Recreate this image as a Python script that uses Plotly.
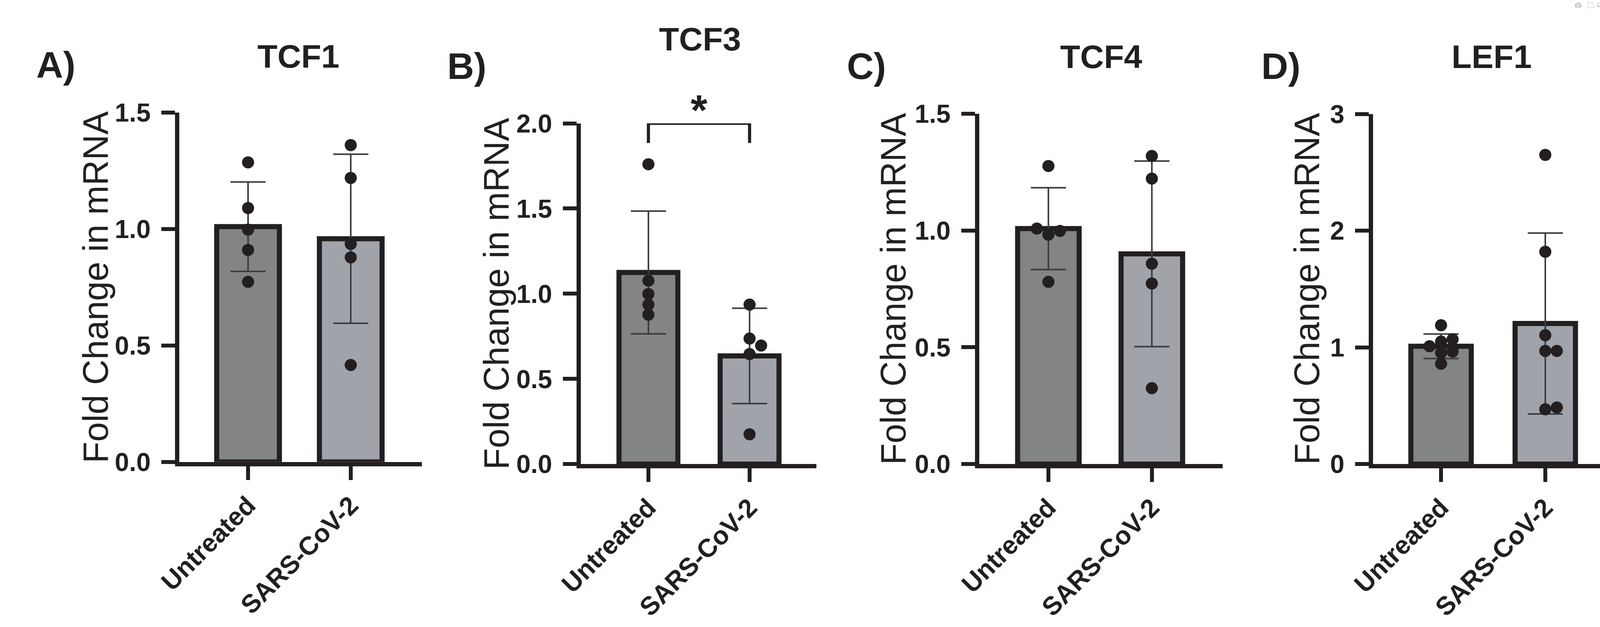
import plotly.graph_objects as go

W, H = 4142, 1604
FONT = "Liberation Sans, Arial, sans-serif"
INK = "#231f20"
ERR = "#3c3c3c"
FILLS = ["#838486", "#a0a3aa"]

groups = ["Untreated", "SARS-CoV-2"]
genes = ["TCF1", "TCF3", "TCF4", "LEF1"]
tags = ["A)", "B)", "C)", "D)"]

# individual replicates (fold change in mRNA)
tcf1_untreated = [1.286, 1.09, 0.997, 0.91, 0.773]
tcf1_sars = [1.36, 1.219, 0.936, 0.878, 0.416]
tcf3_untreated = [1.76, 1.077, 0.998, 0.936, 0.877]
tcf3_sars = [0.936, 0.737, 0.696, 0.646, 0.175]
tcf4_untreated = [1.276, 1.008, 0.998, 0.982, 0.78]
tcf4_sars = [1.319, 1.222, 0.858, 0.773, 0.325]
lef1_untreated = [1.19, 1.07, 1.05, 1.01, 0.965, 0.955, 0.86]
lef1_sars = [2.65, 1.82, 1.105, 0.97, 0.97, 0.485, 0.47]

# bar heights (mean) and error bars (SD)
tcf1_mean = [1.01, 0.958]
tcf1_sd = [0.192, 0.363]
tcf3_mean = [1.125, 0.635]
tcf3_sd = [0.36, 0.28]
tcf4_mean = [1.008, 0.9]
tcf4_sd = [0.175, 0.397]
lef1_mean = [1.01, 1.205]
lef1_sd = [0.105, 0.775]

y_ticks = [[0, 0.5, 1.0, 1.5], [0, 0.5, 1.0, 1.5, 2.0], [0, 0.5, 1.0, 1.5], [0, 1, 2, 3]]
y_ticktext = [["0.0", "0.5", "1.0", "1.5"], ["0.0", "0.5", "1.0", "1.5", "2.0"],
              ["0.0", "0.5", "1.0", "1.5"], ["0", "1", "2", "3"]]

points = [(tcf1_untreated, tcf1_sars), (tcf3_untreated, tcf3_sars),
          (tcf4_untreated, tcf4_sars), (lef1_untreated, lef1_sars)]
means = [tcf1_mean, tcf3_mean, tcf4_mean, lef1_mean]
sds = [tcf1_sd, tcf3_sd, tcf4_sd, lef1_sd]

# panel geometry in page pixels
panels = [
    dict(x0=401, x1=1032, top=263, bot=1200, c0=580, c1=847, bar=176,
         title=(711, 112), tag=(27, 135), ylab=184),
    dict(x0=1445, x1=2058, top=292, bot=1206, c0=1621, c1=1884, bar=166,
         title=(1755, 66), tag=(1096, 138), ylab=1226),
    dict(x0=2481, x1=3114, top=266, bot=1206, c0=2661, c1=2930, bar=173,
         title=(2798, 113), tag=(2135, 138), ylab=2258),
    dict(x0=3505, x1=4135, top=267, bot=1206, c0=3682, c1=3953, bar=170,
         title=(3813, 113), tag=(3213, 138), ylab=3333),
]

MARKER = 31
OUTLINE = 13


def px_x(p):
    return p / W


def px_y(p):
    return 1 - p / H


def swarm(vals, px_per_unit, step=30, min_gap=26):
    # simple greedy beeswarm: push overlapping dots sideways
    placed = []
    offs = [0] * len(vals)
    for i in sorted(range(len(vals)), key=lambda k: vals[k]):
        y = vals[i] * px_per_unit
        x = 0
        for slot in [0, 1, -1, 2, -2, 3, -3]:
            x = slot * step
            if all(((x - a) ** 2 + (y - b) ** 2) ** 0.5 >= min_gap for a, b in placed):
                break
        placed.append((x, y))
        offs[i] = x
    return offs


fig = go.Figure()
layout = dict(width=W, height=H, margin=dict(l=0, r=0, t=0, b=0),
              paper_bgcolor="white", plot_bgcolor="white", showlegend=False,
              font=dict(family=FONT, color=INK))
annotations = []
shapes = []

for n, p in enumerate(panels, start=1):
    sfx = "" if n == 1 else str(n)
    unit = p["c1"] - p["c0"]
    ymax = y_ticks[n - 1][-1]
    px_per_unit = (p["bot"] - p["top"]) / ymax

    fig.add_trace(go.Bar(
        x=[0, 1], y=means[n - 1],
        width=(p["bar"] - OUTLINE) / unit,
        marker=dict(color=FILLS, line=dict(color=INK, width=OUTLINE)),
        error_y=dict(type="data", array=sds[n - 1], visible=True,
                     color=ERR, thickness=4, width=45),
        xaxis="x" + sfx, yaxis="y" + sfx, hoverinfo="skip",
    ))

    for g, vals in enumerate(points[n - 1]):
        offs = swarm(vals, px_per_unit)
        fig.add_trace(go.Scatter(
            x=[g + o / unit for o in offs], y=vals, mode="markers",
            marker=dict(size=MARKER, color=INK, line=dict(width=0)),
            cliponaxis=False, xaxis="x" + sfx, yaxis="y" + sfx,
        ))

    axis_common = dict(showline=True, linewidth=11, linecolor=INK, ticks="outside",
                       ticklen=35, tickwidth=10, tickcolor=INK, showgrid=False,
                       zeroline=False, fixedrange=True,
                       tickfont=dict(family=FONT, size=66, color=INK, weight="bold"))
    layout["xaxis" + sfx] = dict(
        axis_common,
        domain=[px_x(p["x0"]), px_x(p["x1"])],
        range=[(p["x0"] - p["c0"]) / unit, (p["x1"] - p["c0"]) / unit],
        tickmode="array", tickvals=[0, 1], ticktext=groups, tickangle=-45,
        anchor="y" + sfx,
    )
    layout["yaxis" + sfx] = dict(
        axis_common,
        domain=[px_y(p["bot"]), px_y(p["top"])],
        range=[0, ymax],
        tickmode="array", tickvals=y_ticks[n - 1], ticktext=y_ticktext[n - 1],
        ticklabelstandoff=14,
        anchor="x" + sfx,
    )

    # axis title, gene title, panel letter
    annotations.append(dict(
        text="Fold Change in mRNA", textangle=-90, xref="paper", yref="paper",
        x=px_x(p["ylab"]), y=px_y((p["top"] + p["bot"]) / 2),
        xanchor="center", yanchor="middle", showarrow=False,
        font=dict(family=FONT, size=90, color=INK)))
    annotations.append(dict(
        text=genes[n - 1], xref="paper", yref="paper",
        x=px_x(p["title"][0]), y=px_y(p["title"][1]),
        xanchor="center", yanchor="middle", showarrow=False,
        font=dict(family=FONT, size=84, color=INK, weight="bold")))
    annotations.append(dict(
        text=tags[n - 1], xref="paper", yref="paper",
        x=px_x(p["tag"][0]), y=px_y(p["tag"][1]),
        xanchor="left", yanchor="middle", showarrow=False,
        font=dict(family=FONT, size=95, color=INK, weight="bold")))

# significance bracket on TCF3
shapes.append(dict(type="path", xref="x2", yref="y2",
                   path="M 0,1.885 L 0,2.0 L 1,2.0 L 1,1.885",
                   line=dict(color=INK, width=8)))
annotations.append(dict(text="*", xref="x2", yref="paper", x=0.5, y=px_y(255),
                        xanchor="center", yanchor="middle", showarrow=False,
                        font=dict(family=FONT, size=110, color=INK, weight="bold")))

layout["annotations"] = annotations
layout["shapes"] = shapes
fig.update_layout(**layout)

fig.write_html("out.html", post_script="document.body.style.margin='0';")
